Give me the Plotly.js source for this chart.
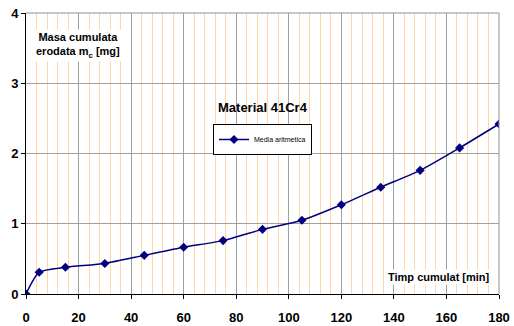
<!DOCTYPE html>
<html><head><meta charset="utf-8">
<script src="https://cdn.plot.ly/plotly-3.0.1.min.js"></script>
<style>html,body{margin:0;padding:0;background:#fff}#c{width:514px;height:326px}</style>
</head><body><div id="c"></div>
<script>
const timp = [0, 5, 15, 30, 45, 60, 75, 90, 105, 120, 135, 150, 165, 180];
const masa = [0, 0.31, 0.38, 0.435, 0.55, 0.665, 0.76, 0.92, 1.05, 1.27, 1.52, 1.76, 2.08, 2.42];
const seriesName = 'Media aritmetica';
const xTicks = [0, 20, 40, 60, 80, 100, 120, 140, 160, 180];
const yTicks = [0, 1, 2, 3, 4];

const F = 'Liberation Sans, Arial, sans-serif';
const trace = {
  x: timp, y: masa, name: seriesName, type: 'scatter', mode: 'lines+markers',
  line: {color: '#000080', width: 1.5, shape: 'spline', smoothing: 0.6},
  marker: {symbol: 'diamond', size: 7, color: '#000080'},
  showlegend: true
};
const layout = {
  width: 514, height: 326,
  margin: {l: 26, r: 15, t: 13, b: 32},
  paper_bgcolor: '#fff', plot_bgcolor: '#fff',
  font: {family: F, color: '#000'},
  xaxis: {
    range: [0, 180], tickvals: xTicks, ticktext: xTicks.map(String),
    showgrid: true, gridcolor: '#a0a0a0', gridwidth: 1,
    minor: {dtick: 4, showgrid: true, gridcolor: '#FFD5AA', gridwidth: 1, ticks: ''},
    showline: true, linecolor: '#000', linewidth: 1, mirror: false,
    ticks: 'outside', ticklen: 4, tickcolor: '#000',
    ticklabelstandoff: 7,
    tickfont: {family: F, size: 13, color: '#000', weight: 'bold'},
    zeroline: false, fixedrange: true
  },
  yaxis: {
    range: [0, 4], tickvals: yTicks, ticktext: yTicks.map(String),
    showgrid: true, gridcolor: '#a0a0a0', gridwidth: 1,
    showline: true, linecolor: '#000', linewidth: 1,
    ticks: 'outside', ticklen: 4, tickcolor: '#000',
    tickfont: {family: F, size: 13, color: '#000', weight: 'bold'},
    zeroline: false, fixedrange: true
  },
  shapes: [
    {type: 'line', xref: 'paper', yref: 'paper', x0: 0, x1: 1, y0: 1, y1: 1, line: {color: '#909090', width: 1}},
    {type: 'line', xref: 'paper', yref: 'paper', x0: 1, x1: 1, y0: 0, y1: 1, line: {color: '#909090', width: 1}}
  ],
  legend: {
    x: 0.5, y: 0.605, xanchor: 'center', yanchor: 'top',
    bgcolor: '#fff', bordercolor: '#000', borderwidth: 1,
    font: {family: F, size: 7, color: '#000'},
    itemwidth: 30, tracegroupgap: 0
  },
  annotations: [
    {xref: 'paper', yref: 'paper', x: 0.11, y: 0.885, xanchor: 'center', yanchor: 'middle',
     text: 'Masa cumulata<br>erodata m<sub>c</sub> [mg]', showarrow: false, align: 'center',
     bgcolor: '#fff', font: {family: F, size: 11, color: '#000', weight: 'bold'}},
    {xref: 'paper', yref: 'paper', x: 0.5, y: 0.665, xanchor: 'center', yanchor: 'middle',
     text: 'Material 41Cr4', showarrow: false,
     font: {family: F, size: 13, color: '#000', weight: 'bold'}},
    {xref: 'paper', yref: 'paper', x: 0.985, y: 0.06, xanchor: 'right', yanchor: 'middle',
     text: 'Timp cumulat [min]', showarrow: false, bgcolor: '#fff',
     font: {family: F, size: 11, color: '#000', weight: 'bold'}}
  ]
};
Plotly.newPlot('c', [trace], layout, {displayModeBar: false, staticPlot: true});
</script></body></html>
